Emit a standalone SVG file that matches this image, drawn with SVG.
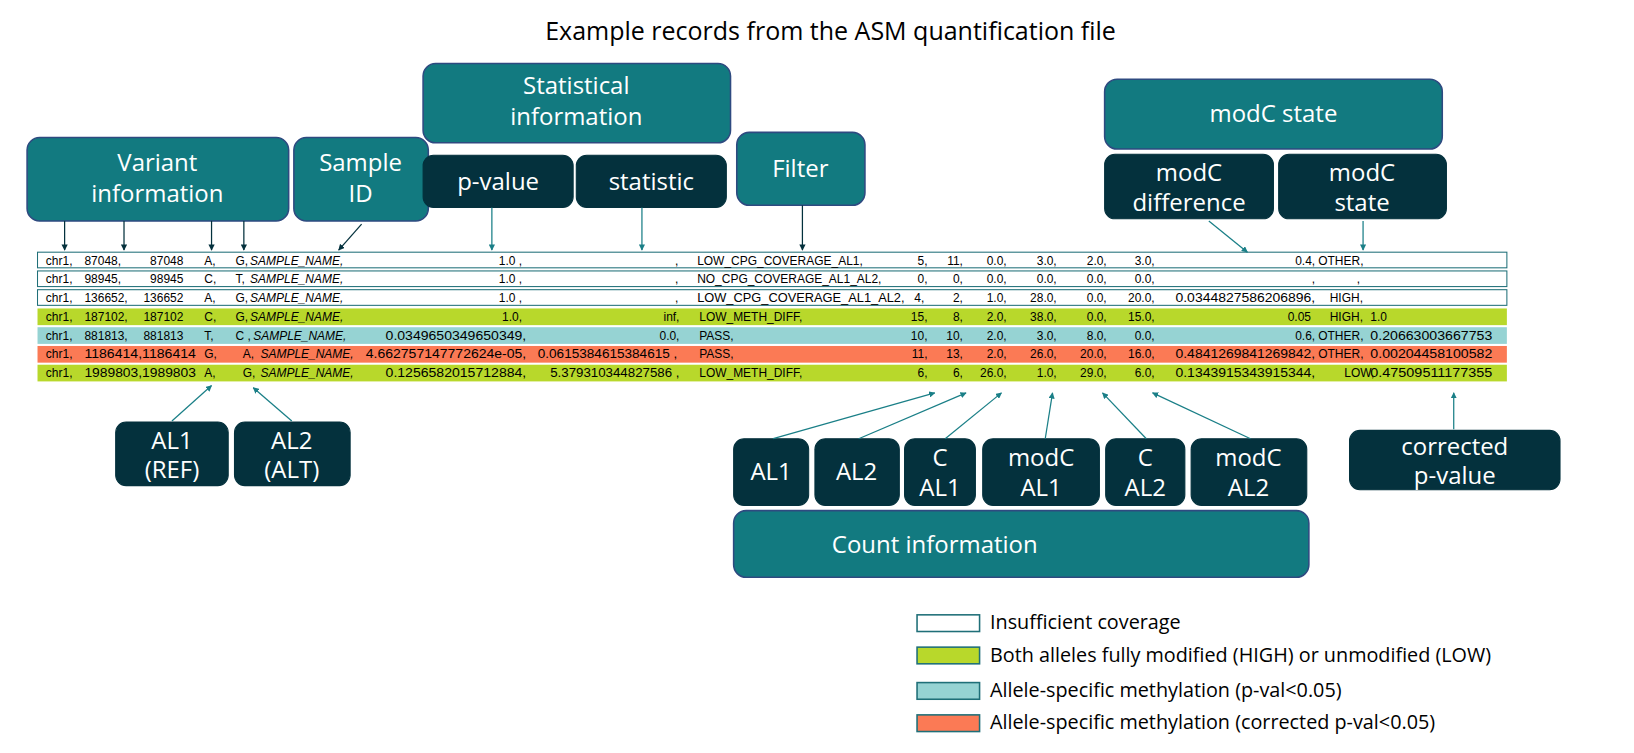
<svg xmlns="http://www.w3.org/2000/svg" width="1634" height="753" viewBox="0 0 1634 753">
<defs>
<marker id="ad" viewBox="0 0 10 10" refX="9" refY="5" markerWidth="5" markerHeight="5" orient="auto"><path d="M0,0L10,5L0,10z" fill="#04313d"/></marker>
<marker id="at" viewBox="0 0 10 10" refX="9" refY="5" markerWidth="5" markerHeight="5" orient="auto"><path d="M0,0L10,5L0,10z" fill="#1a7f87"/></marker>
</defs>
<style>
text{font-family:"Open Sans","Liberation Sans",sans-serif}
.t{fill:#127a80;stroke:#2e4a80;stroke-width:1.5}
.d{fill:#04313d;stroke:#04313d}
.bt{fill:#fff;font-size:23px;text-anchor:middle}
.r{font-size:11.5px;fill:#000}
.r text{font-family:"Liberation Sans",sans-serif}
.e{text-anchor:end}
.i{font-style:italic}
.cd{stroke:#04313d;stroke-width:1.2;fill:none;marker-end:url(#ad)}
.ct{stroke:#1a7f87;stroke-width:1.2;fill:none;marker-end:url(#at)}
.lg{font-size:19px;fill:#000}
</style>
<rect width="1634" height="753" fill="#fff"/>
<g transform="scale(1.0421)">
<text x="797" y="38" font-size="24" text-anchor="middle" fill="#000">Example records from the ASM quantification file</text>

<g id="variant"><rect class="t" x="26" y="132" width="251" height="80" rx="12"/><text class="bt" x="151" y="164">Variant</text><text class="bt" x="151" y="194">information</text></g>
<g id="sample"><rect class="t" x="282" y="132" width="129" height="80" rx="12"/><text class="bt" x="346" y="164">Sample</text><text class="bt" x="346" y="194">ID</text></g>
<g id="stat"><rect class="t" x="406" y="61" width="295" height="76" rx="12"/><text class="bt" x="553" y="90">Statistical</text><text class="bt" x="553" y="120">information</text></g>
<g id="pvalue"><rect class="d" x="406" y="149" width="144" height="50" rx="10"/><text class="bt" x="478" y="182">p-value</text></g>
<g id="statistic"><rect class="d" x="553" y="149" width="144" height="50" rx="10"/><text class="bt" x="625" y="182">statistic</text></g>
<g id="filter"><rect class="t" x="707" y="127" width="123" height="70" rx="12"/><text class="bt" x="768" y="170">Filter</text></g>
<g id="modcstate"><rect class="t" x="1060" y="76" width="324" height="67" rx="12"/><text class="bt" x="1222" y="117">modC state</text></g>
<g id="modcdiff"><rect class="d" x="1060" y="148" width="162" height="62" rx="10"/><text class="bt" x="1141" y="174">modC</text><text class="bt" x="1141" y="202">difference</text></g>
<g id="modcstate2"><rect class="d" x="1227" y="148" width="161" height="62" rx="10"/><text class="bt" x="1307" y="174">modC</text><text class="bt" x="1307" y="202">state</text></g>

<g id="rows">
<rect x="36" y="242" width="1410" height="15" fill="#fff" stroke="#1f6f78"/>
<rect x="36" y="260" width="1410" height="15" fill="#fff" stroke="#1f6f78"/>
<rect x="36" y="278" width="1410" height="15" fill="#fff" stroke="#1f6f78"/>
<rect x="36" y="296" width="1410" height="16" fill="#b8d82b"/>
<rect x="36" y="314" width="1410" height="16" fill="#96d3d3"/>
<rect x="36" y="332" width="1410" height="16" fill="#fb7a55"/>
<rect x="36" y="350" width="1410" height="16" fill="#b8d82b"/>
<g class="r">
<text x="44" y="254">chr1,</text><text x="81" y="254">87048,</text><text class="e" x="176" y="254">87048</text><text x="196" y="254">A,</text><text x="226" y="254">G,</text><text class="i" x="240" y="254">SAMPLE_NAME,</text><text class="e" x="501" y="254">1.0 ,</text><text class="e" x="651" y="254">,</text><text x="669" y="254">LOW_CPG_COVERAGE_AL1,</text><text class="e" x="890" y="254">5,</text><text class="e" x="924" y="254">11,</text><text class="e" x="966" y="254">0.0,</text><text class="e" x="1014" y="254">3.0,</text><text class="e" x="1062" y="254">2.0,</text><text class="e" x="1108" y="254">3.0,</text><text class="e" x="1262" y="254">0.4,</text><text x="1265" y="254">OTHER,</text>
<text x="44" y="272">chr1,</text><text x="81" y="272">98945,</text><text class="e" x="176" y="272">98945</text><text x="196" y="272">C,</text><text x="226" y="272">T,</text><text class="i" x="240" y="272">SAMPLE_NAME,</text><text class="e" x="501" y="272">1.0 ,</text><text class="e" x="651" y="272">,</text><text x="669" y="272">NO_CPG_COVERAGE_AL1_AL2,</text><text class="e" x="890" y="272">0,</text><text class="e" x="924" y="272">0,</text><text class="e" x="966" y="272">0.0,</text><text class="e" x="1014" y="272">0.0,</text><text class="e" x="1062" y="272">0.0,</text><text class="e" x="1108" y="272">0.0,</text><text class="e" x="1262" y="272">,</text><text x="1302" y="272">,</text>
<text x="44" y="290">chr1,</text><text x="81" y="290">136652,</text><text class="e" x="176" y="290">136652</text><text x="196" y="290">A,</text><text x="226" y="290">G,</text><text class="i" x="240" y="290">SAMPLE_NAME,</text><text class="e" x="501" y="290">1.0 ,</text><text class="e" x="651" y="290">,</text><text x="669" y="290" textLength="199" lengthAdjust="spacingAndGlyphs">LOW_CPG_COVERAGE_AL1_AL2,</text><text class="e" x="887" y="290">4,</text><text class="e" x="924" y="290">2,</text><text class="e" x="966" y="290">1.0,</text><text class="e" x="1014" y="290">28.0,</text><text class="e" x="1062" y="290">0.0,</text><text class="e" x="1108" y="290">20.0,</text><text x="1128" y="290" textLength="134" lengthAdjust="spacingAndGlyphs">0.0344827586206896,</text><text x="1276" y="290">HIGH,</text>
<text x="44" y="308">chr1,</text><text x="81" y="308">187102,</text><text class="e" x="176" y="308">187102</text><text x="196" y="308">C,</text><text x="226" y="308">G,</text><text class="i" x="240" y="308">SAMPLE_NAME,</text><text class="e" x="501" y="308">1.0,</text><text class="e" x="652" y="308">inf,</text><text x="671" y="308">LOW_METH_DIFF,</text><text class="e" x="890" y="308">15,</text><text class="e" x="924" y="308">8,</text><text class="e" x="966" y="308">2.0,</text><text class="e" x="1014" y="308">38.0,</text><text class="e" x="1062" y="308">0.0,</text><text class="e" x="1108" y="308">15.0,</text><text class="e" x="1258" y="308">0.05</text><text x="1276" y="308">HIGH,</text><text x="1315" y="308">1.0</text>
<text x="44" y="326">chr1,</text><text x="81" y="326">881813,</text><text class="e" x="176" y="326">881813</text><text x="196" y="326">T,</text><text x="226" y="326">C ,</text><text class="i" x="243" y="326">SAMPLE_NAME,</text><text x="370" y="326" textLength="135" lengthAdjust="spacingAndGlyphs">0.0349650349650349,</text><text class="e" x="652" y="326">0.0,</text><text x="671" y="326">PASS,</text><text class="e" x="890" y="326">10,</text><text class="e" x="924" y="326">10,</text><text class="e" x="966" y="326">2.0,</text><text class="e" x="1014" y="326">3.0,</text><text class="e" x="1062" y="326">8.0,</text><text class="e" x="1108" y="326">0.0,</text><text class="e" x="1262" y="326">0.6,</text><text x="1265" y="326">OTHER,</text><text x="1315" y="326" textLength="117" lengthAdjust="spacingAndGlyphs">0.20663003667753</text>
<text x="44" y="344">chr1,</text><text x="81" y="344" textLength="107" lengthAdjust="spacingAndGlyphs">1186414,1186414</text><text x="196" y="344">G,</text><text x="233" y="344">A,</text><text class="i" x="250" y="344">SAMPLE_NAME,</text><text x="351" y="344" textLength="154" lengthAdjust="spacingAndGlyphs">4.662757147772624e-05,</text><text x="516" y="344" textLength="134" lengthAdjust="spacingAndGlyphs">0.0615384615384615 ,</text><text x="671" y="344">PASS,</text><text class="e" x="890" y="344">11,</text><text class="e" x="924" y="344">13,</text><text class="e" x="966" y="344">2.0,</text><text class="e" x="1014" y="344">26.0,</text><text class="e" x="1062" y="344">20.0,</text><text class="e" x="1108" y="344">16.0,</text><text x="1128" y="344" textLength="134" lengthAdjust="spacingAndGlyphs">0.4841269841269842,</text><text x="1265" y="344">OTHER,</text><text x="1315" y="344" textLength="117" lengthAdjust="spacingAndGlyphs">0.00204458100582</text>
<text x="44" y="362">chr1,</text><text x="81" y="362" textLength="107" lengthAdjust="spacingAndGlyphs">1989803,1989803</text><text x="196" y="362">A,</text><text x="233" y="362">G,</text><text class="i" x="250" y="362">SAMPLE_NAME,</text><text x="370" y="362" textLength="135" lengthAdjust="spacingAndGlyphs">0.1256582015712884,</text><text x="528" y="362" textLength="124" lengthAdjust="spacingAndGlyphs">5.379310344827586 ,</text><text x="671" y="362">LOW_METH_DIFF,</text><text class="e" x="890" y="362">6,</text><text class="e" x="924" y="362">6,</text><text class="e" x="966" y="362">26.0,</text><text class="e" x="1014" y="362">1.0,</text><text class="e" x="1062" y="362">29.0,</text><text class="e" x="1108" y="362">6.0,</text><text x="1128" y="362" textLength="134" lengthAdjust="spacingAndGlyphs">0.1343915343915344,</text><text x="1290" y="362">LOW,</text><text x="1315" y="362" textLength="117" lengthAdjust="spacingAndGlyphs">0.47509511177355</text>
</g>
</g>

<g id="al1ref"><rect class="d" x="111" y="405" width="108" height="61" rx="10"/><text class="bt" x="165" y="431">AL1</text><text class="bt" x="165" y="459">(REF)</text></g>
<g id="al2alt"><rect class="d" x="225" y="405" width="111" height="61" rx="10"/><text class="bt" x="280" y="431">AL2</text><text class="bt" x="280" y="459">(ALT)</text></g>
<g id="cAL1"><rect class="d" x="704" y="421" width="72" height="64" rx="10"/><text class="bt" x="740" y="461">AL1</text></g>
<g id="cAL2"><rect class="d" x="782" y="421" width="81" height="64" rx="10"/><text class="bt" x="822" y="461">AL2</text></g>
<g id="cCAL1"><rect class="d" x="868" y="421" width="68" height="64" rx="10"/><text class="bt" x="902" y="447">C</text><text class="bt" x="902" y="476">AL1</text></g>
<g id="cmAL1"><rect class="d" x="943" y="421" width="112" height="64" rx="10"/><text class="bt" x="999" y="447">modC</text><text class="bt" x="999" y="476">AL1</text></g>
<g id="cCAL2"><rect class="d" x="1061" y="421" width="76" height="64" rx="10"/><text class="bt" x="1099" y="447">C</text><text class="bt" x="1099" y="476">AL2</text></g>
<g id="cmAL2"><rect class="d" x="1143" y="421" width="111" height="64" rx="10"/><text class="bt" x="1198" y="447">modC</text><text class="bt" x="1198" y="476">AL2</text></g>
<g id="count"><rect class="t" x="704" y="490" width="552" height="64" rx="12"/><text class="bt" x="897" y="531">Count information</text></g>
<g id="corr"><rect class="d" x="1295" y="413" width="202" height="57" rx="10"/><text class="bt" x="1396" y="437">corrected</text><text class="bt" x="1396" y="464">p-value</text></g>

<g id="connectors">
<path class="cd" d="M62,212V240"/><path class="cd" d="M119,212V240"/><path class="cd" d="M203,212V240"/><path class="cd" d="M234,212V240"/>
<path class="cd" d="M347,215L325,240"/>
<path class="ct" d="M472,199V240"/><path class="ct" d="M616,199V240"/>
<path class="cd" d="M770,197V240"/>
<path class="ct" d="M1160,212L1197,242"/><path class="ct" d="M1308,212V240"/>
<path class="ct" d="M165,404L203,370"/><path class="ct" d="M280,404L243,372"/>
<path class="ct" d="M742,421L897,377"/><path class="ct" d="M824,421L927,377"/><path class="ct" d="M907,421L961,377"/><path class="ct" d="M1003,421L1010,377"/><path class="ct" d="M1100,421L1058,377"/><path class="ct" d="M1200,421L1106,377"/>
<path class="ct" d="M1395,412V377"/>
</g>

<g id="legend">
<rect x="880" y="590" width="60" height="16" fill="#fff" stroke="#1f6f78" stroke-width="1.5"/><text class="lg" x="950" y="604">Insufficient coverage</text>
<rect x="880" y="621" width="60" height="16" fill="#b8d82b" stroke="#1f6f78" stroke-width="1.5"/><text class="lg" x="950" y="635">Both alleles fully modified (HIGH) or unmodified (LOW)</text>
<rect x="880" y="655" width="60" height="16" fill="#96d3d3" stroke="#1f6f78" stroke-width="1.5"/><text class="lg" x="950" y="669">Allele-specific methylation (p-val&lt;0.05)</text>
<rect x="880" y="686" width="60" height="16" fill="#fb7a55" stroke="#1f6f78" stroke-width="1.5"/><text class="lg" x="950" y="700">Allele-specific methylation (corrected p-val&lt;0.05)</text>
</g>
</g>
</svg>
